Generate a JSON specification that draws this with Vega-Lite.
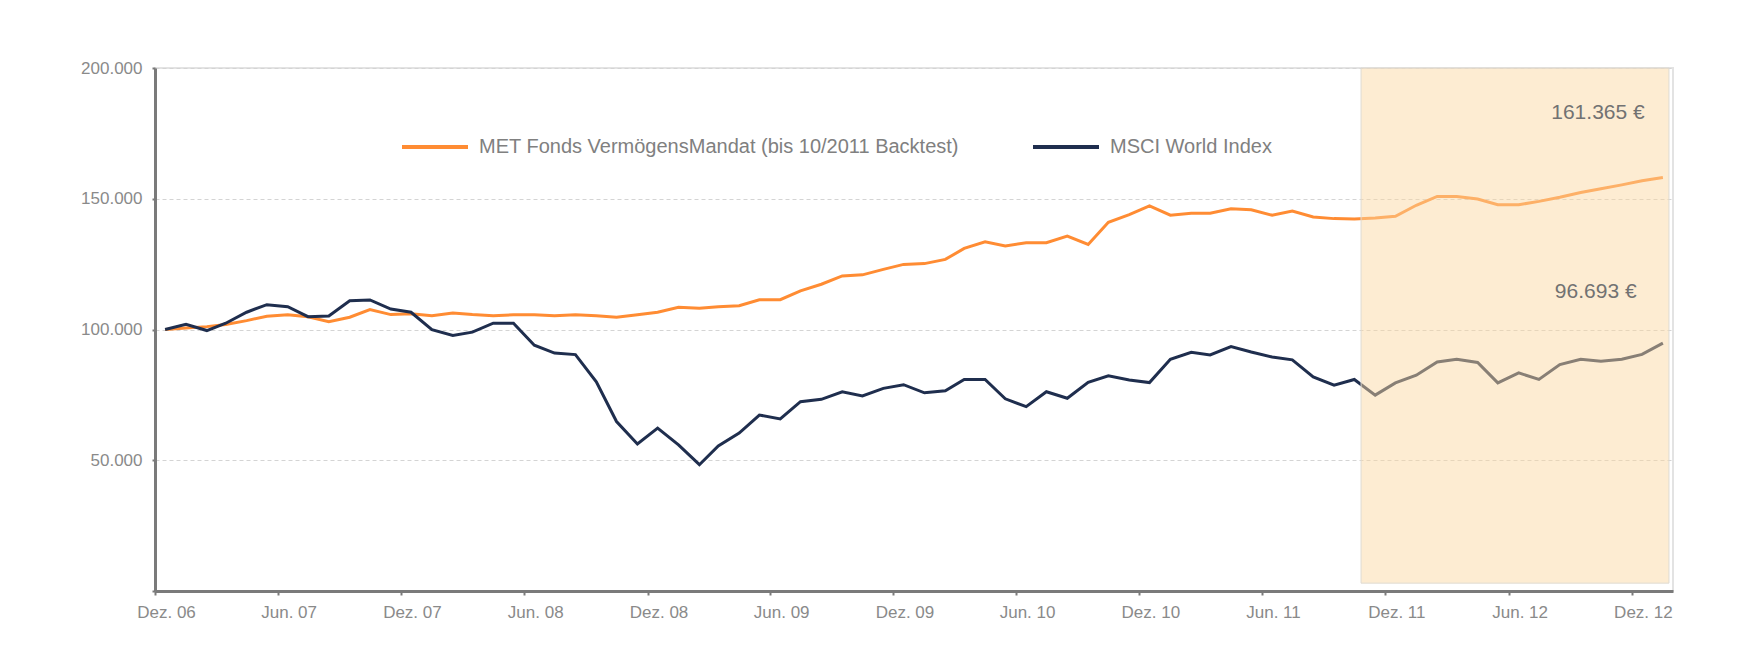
{
  "$schema": "https://vega.github.io/schema/vega-lite/v6.json",
  "width": 1518,
  "height": 523,
  "autosize": {"type": "none"},
  "padding": {"left": 155, "top": 68, "right": 67, "bottom": 72},
  "background": "white",
  "config": {"view": {"stroke": "#e3e3e3", "strokeWidth": 2}, "font": "Liberation Sans"},
  "datasets": {
    "met": [
      {"date": "2006-12-16", "value": 100000}, {"date": "2007-01-16", "value": 100600}, {"date": "2007-02-16", "value": 101100},
      {"date": "2007-03-16", "value": 101900}, {"date": "2007-04-16", "value": 103400}, {"date": "2007-05-16", "value": 105100},
      {"date": "2007-06-16", "value": 105600}, {"date": "2007-07-16", "value": 104900}, {"date": "2007-08-16", "value": 103000},
      {"date": "2007-09-16", "value": 104700}, {"date": "2007-10-16", "value": 107600}, {"date": "2007-11-16", "value": 105700},
      {"date": "2007-12-16", "value": 106000}, {"date": "2008-01-16", "value": 105300}, {"date": "2008-02-16", "value": 106300},
      {"date": "2008-03-16", "value": 105700}, {"date": "2008-04-16", "value": 105300}, {"date": "2008-05-16", "value": 105600},
      {"date": "2008-06-16", "value": 105600}, {"date": "2008-07-16", "value": 105300}, {"date": "2008-08-16", "value": 105600},
      {"date": "2008-09-16", "value": 105300}, {"date": "2008-10-16", "value": 104700}, {"date": "2008-11-16", "value": 105600},
      {"date": "2008-12-16", "value": 106600}, {"date": "2009-01-16", "value": 108500}, {"date": "2009-02-16", "value": 108100},
      {"date": "2009-03-16", "value": 108700}, {"date": "2009-04-16", "value": 109100}, {"date": "2009-05-16", "value": 111400},
      {"date": "2009-06-16", "value": 111400}, {"date": "2009-07-16", "value": 114800}, {"date": "2009-08-16", "value": 117300},
      {"date": "2009-09-16", "value": 120500}, {"date": "2009-10-16", "value": 120900}, {"date": "2009-11-16", "value": 123000},
      {"date": "2009-12-16", "value": 124900}, {"date": "2010-01-16", "value": 125200}, {"date": "2010-02-16", "value": 126800},
      {"date": "2010-03-16", "value": 131000}, {"date": "2010-04-16", "value": 133500}, {"date": "2010-05-16", "value": 131900},
      {"date": "2010-06-16", "value": 133200}, {"date": "2010-07-16", "value": 133200}, {"date": "2010-08-16", "value": 135700},
      {"date": "2010-09-16", "value": 132500}, {"date": "2010-10-16", "value": 141000}, {"date": "2010-11-16", "value": 143900},
      {"date": "2010-12-16", "value": 147300}, {"date": "2011-01-16", "value": 143700}, {"date": "2011-02-16", "value": 144500},
      {"date": "2011-03-16", "value": 144500}, {"date": "2011-04-16", "value": 146200}, {"date": "2011-05-16", "value": 145800},
      {"date": "2011-06-16", "value": 143700}, {"date": "2011-07-16", "value": 145300}, {"date": "2011-08-16", "value": 143000},
      {"date": "2011-09-16", "value": 142400}, {"date": "2011-10-16", "value": 142300}, {"date": "2011-11-16", "value": 142600},
      {"date": "2011-12-16", "value": 143300}, {"date": "2012-01-16", "value": 147500}, {"date": "2012-02-16", "value": 150900},
      {"date": "2012-03-16", "value": 150900}, {"date": "2012-04-16", "value": 149900}, {"date": "2012-05-16", "value": 147700},
      {"date": "2012-06-16", "value": 147700}, {"date": "2012-07-16", "value": 149000}, {"date": "2012-08-16", "value": 150600},
      {"date": "2012-09-16", "value": 152400}, {"date": "2012-10-16", "value": 153800}, {"date": "2012-11-16", "value": 155300},
      {"date": "2012-12-16", "value": 156900}, {"date": "2013-01-16", "value": 158100}
    ],
    "msci": [
      {"date": "2006-12-16", "value": 100000}, {"date": "2007-01-16", "value": 102000}, {"date": "2007-02-16", "value": 99600},
      {"date": "2007-03-16", "value": 102400}, {"date": "2007-04-16", "value": 106600}, {"date": "2007-05-16", "value": 109500},
      {"date": "2007-06-16", "value": 108700}, {"date": "2007-07-16", "value": 104900}, {"date": "2007-08-16", "value": 105200},
      {"date": "2007-09-16", "value": 111000}, {"date": "2007-10-16", "value": 111300}, {"date": "2007-11-16", "value": 107800},
      {"date": "2007-12-16", "value": 106600}, {"date": "2008-01-16", "value": 99900}, {"date": "2008-02-16", "value": 97700},
      {"date": "2008-03-16", "value": 99000}, {"date": "2008-04-16", "value": 102400}, {"date": "2008-05-16", "value": 102400},
      {"date": "2008-06-16", "value": 94000}, {"date": "2008-07-16", "value": 91000}, {"date": "2008-08-16", "value": 90400},
      {"date": "2008-09-16", "value": 80000}, {"date": "2008-10-16", "value": 64800}, {"date": "2008-11-16", "value": 56200},
      {"date": "2008-12-16", "value": 62300}, {"date": "2009-01-16", "value": 55900}, {"date": "2009-02-16", "value": 48300},
      {"date": "2009-03-16", "value": 55500}, {"date": "2009-04-16", "value": 60400}, {"date": "2009-05-16", "value": 67300},
      {"date": "2009-06-16", "value": 65800}, {"date": "2009-07-16", "value": 72400}, {"date": "2009-08-16", "value": 73300},
      {"date": "2009-09-16", "value": 76200}, {"date": "2009-10-16", "value": 74600}, {"date": "2009-11-16", "value": 77500},
      {"date": "2009-12-16", "value": 78900}, {"date": "2010-01-16", "value": 75800}, {"date": "2010-02-16", "value": 76600},
      {"date": "2010-03-16", "value": 80900}, {"date": "2010-04-16", "value": 80900}, {"date": "2010-05-16", "value": 73500},
      {"date": "2010-06-16", "value": 70500}, {"date": "2010-07-16", "value": 76200}, {"date": "2010-08-16", "value": 73700},
      {"date": "2010-09-16", "value": 79800}, {"date": "2010-10-16", "value": 82300}, {"date": "2010-11-16", "value": 80700},
      {"date": "2010-12-16", "value": 79700}, {"date": "2011-01-16", "value": 88600}, {"date": "2011-02-16", "value": 91300},
      {"date": "2011-03-16", "value": 90300}, {"date": "2011-04-16", "value": 93500}, {"date": "2011-05-16", "value": 91400},
      {"date": "2011-06-16", "value": 89500}, {"date": "2011-07-16", "value": 88400}, {"date": "2011-08-16", "value": 81900},
      {"date": "2011-09-16", "value": 78700}, {"date": "2011-10-16", "value": 80900}, {"date": "2011-11-16", "value": 74900},
      {"date": "2011-12-16", "value": 79600}, {"date": "2012-01-16", "value": 82500}, {"date": "2012-02-16", "value": 87600},
      {"date": "2012-03-16", "value": 88600}, {"date": "2012-04-16", "value": 87400}, {"date": "2012-05-16", "value": 79600},
      {"date": "2012-06-16", "value": 83400}, {"date": "2012-07-16", "value": 80900}, {"date": "2012-08-16", "value": 86600},
      {"date": "2012-09-16", "value": 88600}, {"date": "2012-10-16", "value": 87900}, {"date": "2012-11-16", "value": 88600},
      {"date": "2012-12-16", "value": 90500}, {"date": "2013-01-16", "value": 94800}
    ],
    "period": [{"start": "2011-10-26", "end": "2013-01-25", "low": 3000, "high": 200000}],
    "labels": [
      {"date": "2012-12-20", "value": 182800, "label": "161.365 €"},
      {"date": "2012-12-08", "value": 114300, "label": "96.693 €"}
    ]
  },
  "layer": [
    {
      "data": {"name": "met"},
      "transform": [{"calculate": "'MET Fonds VermögensMandat (bis 10/2011 Backtest)'", "as": "series"}],
      "mark": {"type": "line", "strokeWidth": 3},
      "encoding": {
        "x": {
          "field": "date", "type": "temporal",
          "scale": {"type": "utc", "domain": [{"year": 2006, "month": 12, "date": 1, "utc": true}, {"year": 2013, "month": 1, "date": 31, "utc": true}]},
          "axis": {
            "values": [
              {"year": 2006, "month": 12, "date": 1, "utc": true}, {"year": 2007, "month": 6, "date": 1, "utc": true},
              {"year": 2007, "month": 12, "date": 1, "utc": true}, {"year": 2008, "month": 6, "date": 1, "utc": true},
              {"year": 2008, "month": 12, "date": 1, "utc": true}, {"year": 2009, "month": 6, "date": 1, "utc": true},
              {"year": 2009, "month": 12, "date": 1, "utc": true}, {"year": 2010, "month": 6, "date": 1, "utc": true},
              {"year": 2010, "month": 12, "date": 1, "utc": true}, {"year": 2011, "month": 6, "date": 1, "utc": true},
              {"year": 2011, "month": 12, "date": 1, "utc": true}, {"year": 2012, "month": 6, "date": 1, "utc": true},
              {"year": 2012, "month": 12, "date": 1, "utc": true}
            ],
            "labelExpr": "(utcmonth(datum.value) == 11 ? 'Dez. ' : 'Jun. ') + utcFormat(datum.value, '%y')",
            "title": null, "grid": false,
            "domainColor": "#7a7a7a", "domainWidth": 3,
            "tickColor": "#7a7a7a", "tickWidth": 2, "tickSize": 4,
            "labelFontSize": 17, "labelColor": "#8a8a8a", "labelPadding": 9, "labelOffset": 11,
            "labelFlush": false, "labelOverlap": false, "labelFont": "Liberation Sans"
          }
        },
        "y": {
          "field": "value", "type": "quantitative",
          "scale": {"domain": [0, 200000], "nice": false},
          "axis": {
            "values": [0, 50000, 100000, 150000, 200000],
            "labelExpr": "datum.value == 0 ? '' : replace(format(datum.value, ','), ',', '.')",
            "title": null, "grid": true, "gridDash": [4, 3], "gridColor": "#d4d4d4", "gridWidth": 1,
            "domainColor": "#7a7a7a", "domainWidth": 3,
            "tickColor": "#7a7a7a", "tickWidth": 2, "tickSize": 3,
            "labelFontSize": 17, "labelColor": "#8a8a8a", "labelPadding": 10, "labelFont": "Liberation Sans"
          }
        },
        "color": {
          "field": "series", "type": "nominal",
          "scale": {"domain": ["MET Fonds VermögensMandat (bis 10/2011 Backtest)", "MSCI World Index"], "range": ["#ff8c33", "#1f2e4e"]},
          "legend": {
            "orient": "none", "legendX": 245, "legendY": 44, "direction": "horizontal", "title": null,
            "symbolType": "stroke", "symbolSize": 4356, "symbolStrokeWidth": 4,
            "labelFontSize": 20, "labelColor": "#808080", "labelOffset": 9, "labelLimit": 700,
            "columnPadding": 66, "padding": 0, "labelFont": "Liberation Sans"
          }
        }
      }
    },
    {
      "data": {"name": "msci"},
      "transform": [{"calculate": "'MSCI World Index'", "as": "series"}],
      "mark": {"type": "line", "strokeWidth": 3},
      "encoding": {
        "x": {"field": "date", "type": "temporal"},
        "y": {"field": "value", "type": "quantitative"},
        "color": {"field": "series", "type": "nominal"}
      }
    },
    {
      "data": {"name": "period"},
      "mark": {"type": "rect", "fill": "#fbd7a1", "fillOpacity": 0.48, "stroke": "#dedad3", "strokeWidth": 1},
      "encoding": {
        "x": {"field": "start", "type": "temporal"},
        "x2": {"field": "end"},
        "y": {"field": "low", "type": "quantitative"},
        "y2": {"field": "high"}
      }
    },
    {
      "data": {"name": "labels"},
      "mark": {"type": "text", "align": "right", "baseline": "middle", "fontSize": 21, "color": "#727272", "font": "Liberation Sans"},
      "encoding": {
        "x": {"field": "date", "type": "temporal"},
        "y": {"field": "value", "type": "quantitative"},
        "text": {"field": "label"}
      }
    }
  ]
}
